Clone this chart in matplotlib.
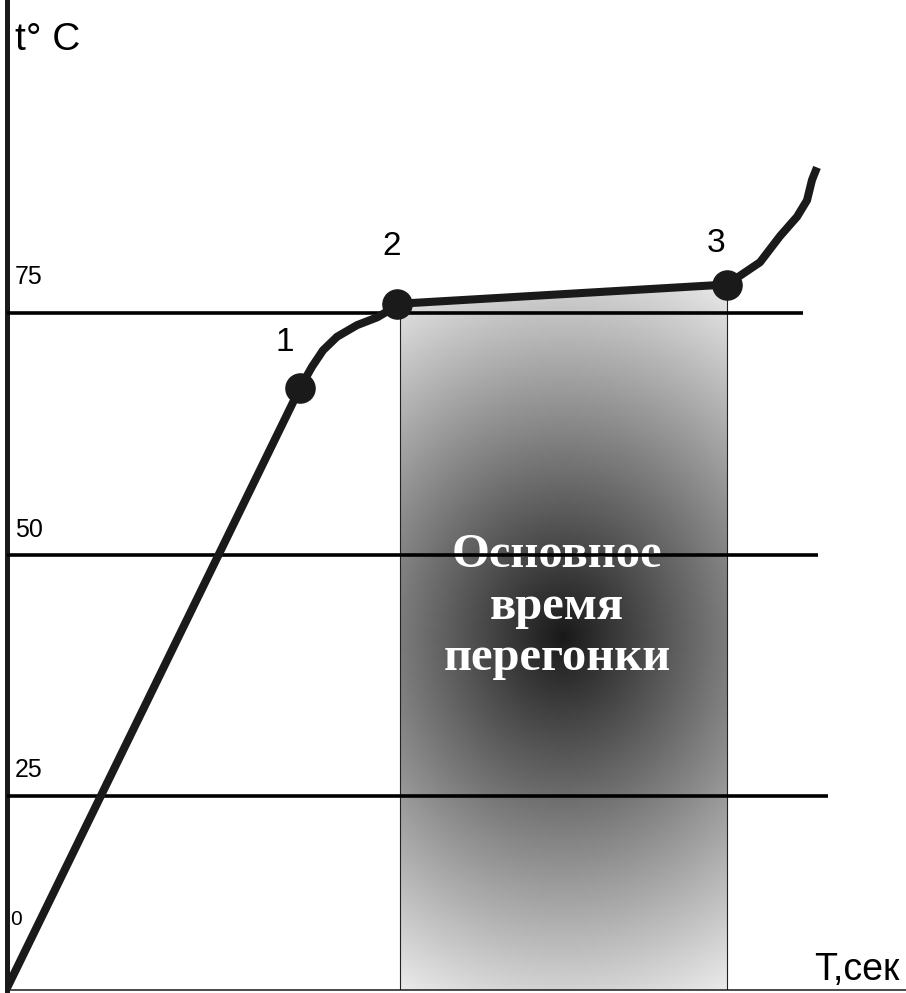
import matplotlib.pyplot as plt
import numpy as np
from matplotlib.patches import Polygon

# кривая нагрева (T в усл. единицах, t в градусах)
curve_T = [0.0, 29.3, 30.5, 31.6, 33.0, 35.0, 37.0, 38.0, 39.0, 72.0, 75.3, 77.3, 79.0, 80.0, 80.5, 81.0]
curve_t = [5.2, 67.2, 69.4, 71.1, 72.5, 73.7, 74.5, 75.1, 75.9, 77.9, 80.2, 82.9, 84.9, 86.6, 88.7, 90.0]

# отмеченные точки 1, 2, 3
point_T = [29.3, 39.0, 72.0]
point_t = [67.2, 75.9, 77.9]
point_names = ["1", "2", "3"]

# горизонтальные уровни
level_values = [75, 50, 25]
level_ends = [79.6, 81.1, 82.1]
level_names = ["75", "50", "25"]

# основное время перегонки
zone_T = [39.3, 72.0]

fig = plt.figure(figsize=(9.06, 9.93), dpi=100)
ax = fig.add_axes([7 / 906, 3 / 993, 1 - 7 / 906, 1 - 3 / 993])
ax.set_xlim(0, 89.9)
ax.set_ylim(5.0, 107.3)
ax.set_xticks([])
ax.set_yticks([])
ax.spines["top"].set_visible(False)
ax.spines["right"].set_visible(False)
ax.spines["left"].set_linewidth(3.6)
ax.spines["left"].set_color("#1a1a1a")
ax.spines["bottom"].set_linewidth(1.1)
ax.spines["bottom"].set_color("#1a1a1a")

# градиентная заливка под участком 2-3
x0, x1 = zone_T
gx = np.linspace(x0, x1, 200)
gy = np.linspace(5.0, 80.0, 400)
GX, GY = np.meshgrid(gx, gy)
val = 0.1 + np.sqrt(((GX - 55.6) * 0.0235) ** 2 + ((GY - 41.5) * 0.0198) ** 2)
val = np.clip(val, 0, 0.93)
img = ax.imshow(val, extent=[x0, x1, 5.0, 80.0], origin="lower", cmap="gray",
                vmin=0, vmax=1, aspect="auto", zorder=1, interpolation="bilinear")
top_y = np.interp([x0, x1], curve_T, curve_t)
clip = Polygon([[x0, 5.0], [x0, top_y[0]], [x1, top_y[1]], [x1, 5.0]],
               closed=True, transform=ax.transData, facecolor="none", edgecolor="none")
ax.add_patch(clip)
img.set_clip_path(clip)
ax.plot([x0, x0], [5.0, top_y[0]], color="#222222", lw=0.8, zorder=2)
ax.plot([x1, x1], [5.0, top_y[1]], color="#222222", lw=0.8, zorder=2)

ax.text(55.0, 44.6, "Основное\nвремя\nперегонки", color="white", fontsize=35,
        family="Liberation Serif", fontweight="bold", ha="center", va="center",
        linespacing=1.22, zorder=3)

for v, e in zip(level_values, level_ends):
    ax.plot([0, e], [v, v], color="black", lw=2.6, zorder=4, solid_capstyle="butt")

label_y = [78.0, 51.8, 27.0]
for name, y in zip(level_names, label_y):
    ax.text(0.8, y, name, fontsize=18, family="Liberation Sans", ha="left", va="baseline")
ax.text(0.3, 11.7, "0", fontsize=15, family="Liberation Sans", ha="left", va="baseline")

ax.plot(curve_T, curve_t, color="#1a1a1a", lw=5.8, zorder=5, solid_capstyle="butt",
        solid_joinstyle="round")
ax.plot(point_T, point_t, "o", color="#1a1a1a", ms=21, zorder=6)

name_pos = [(27.8, 71.0), (38.5, 80.9), (70.9, 81.3)]
for name, (x, y) in zip(point_names, name_pos):
    ax.text(x, y, name, fontsize=24, family="Liberation Sans", ha="center",
            va="baseline", zorder=6)

ax.text(0.8, 102.1, "t° C", fontsize=28, family="Liberation Sans", ha="left", va="baseline")
ax.text(89.3, 6.0, "T,сек", fontsize=27, family="Liberation Sans", ha="right", va="baseline")

fig.savefig("out.png", dpi=100)
